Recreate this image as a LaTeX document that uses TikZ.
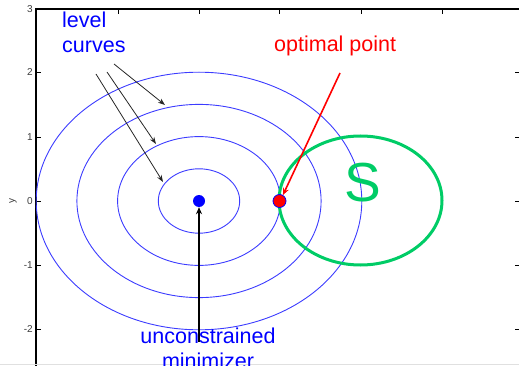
\documentclass[tikz,border=0pt]{standalone}
\usepackage{fontspec}
\setmainfont{Liberation Sans}
\usetikzlibrary{arrows.meta}
\definecolor{lvl}{RGB}{60,60,255}
\definecolor{sgreen}{RGB}{0,204,102}
\definecolor{axgray}{RGB}{60,60,60}
\begin{document}
\begin{tikzpicture}[x=1pt,y=-1pt,
  levelcurve/.style={draw=lvl,line width=0.9pt},
  ticklbl/.style={anchor=east,inner sep=0pt,font=\fontsize{10}{12}\selectfont,text=axgray},
  tickline/.style={line width=0.8pt,draw=black},
  bigtext/.style={inner sep=0pt,font=\fontsize{21.5}{25}\selectfont},
  thinarrow/.style={draw=black!85,line width=0.8pt,-{Stealth[length=7pt,width=5pt]}},
  thickarrow/.style={line width=1.8pt,-{Stealth[length=7pt,width=6pt]}}]
\useasboundingbox (0,0) rectangle (519,366);
% axes
\draw[line width=1.2pt,draw=black] (36,366) -- (36,9) -- (519,9);
\foreach \xx in {118,199,279,361,442} \draw[tickline] (\xx,9) -- (\xx,14);
\foreach \yy/\lab in {9/3,72/2,137/1,201/0,265/-1,329/-2} {
  \draw[tickline] (36,\yy) -- (41,\yy);
  \draw[tickline] (515,\yy) -- (519,\yy);
  \node[ticklbl] at (33,\yy) {\lab};
}
\node[rotate=90,inner sep=0pt,font=\fontsize{10}{12}\selectfont,text=axgray] (ylab) at (13,201) {y};
\draw[line width=1pt,draw=black!12] (0,364.5) -- (519,364.5);
% level curves
\foreach \k in {1,2,3,4}
  \draw[levelcurve] (199,201) ellipse [x radius={40.7*\k}, y radius={32.2*\k}];
% constraint set
\draw[draw=sgreen,line width=3pt] (360.5,200.5) ellipse [x radius=81.5, y radius=64.5];
\node[inner sep=0pt,anchor=base,text=sgreen,font=\fontsize{55}{60}\selectfont] (S) at (362.5,201.7) {S};
% points
\node[circle,fill=blue,inner sep=0pt,minimum size=12pt] (umin) at (199,201) {};
\node[circle,fill=red,draw=blue,line width=0.8pt,inner sep=0pt,minimum size=13pt] (opt) at (279.5,201) {};
% labels
\node[bigtext,text=blue,anchor=base west,align=left] (lc) at (62,52.3) {level\\curves};
\node[bigtext,text=red,anchor=base west] (op) at (274,52) {optimal point};
\node[bigtext,text=blue,anchor=base,align=center] (um) at (208,368) {unconstrained\\minimizer};
% arrow coordinates
\coordinate (tA) at (114,64);
\coordinate (tB) at (107,72);
\coordinate (tC) at (96,74);
\coordinate (hA) at (165,105);
\coordinate (hB) at (156,144);
\coordinate (hC) at (163,182);
\coordinate (tR) at (340,73);
\coordinate (tU) at (199,342);
\draw[thinarrow] (tA) -- (hA);
\draw[thinarrow] (tB) -- (hB);
\draw[thinarrow] (tC) -- (hC);
\draw[thickarrow,draw=red,line width=1.6pt] (tR) -- (opt.60);
\draw[thickarrow,draw=black] (tU) -- (umin.south);
\end{tikzpicture}
\end{document}
